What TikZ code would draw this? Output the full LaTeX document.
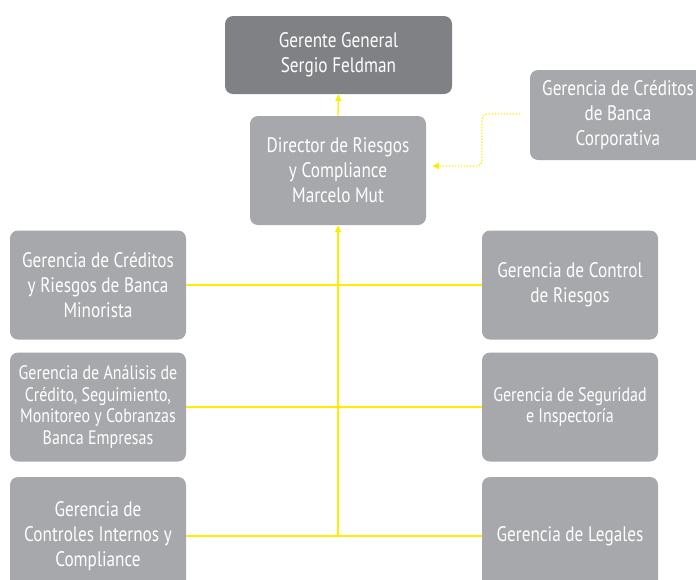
\documentclass[tikz,border=0pt]{standalone}
\usepackage{fontspec}
\setmainfont{PT Sans}[FakeStretch=0.82]
\usetikzlibrary{arrows.meta}
\definecolor{darkbox}{RGB}{128,129,132}
\definecolor{lightbox}{RGB}{167,168,171}
\definecolor{ylw}{RGB}{255,237,0}
\tikzset{
  box/.style={fill=lightbox, rounded corners=8pt, text=white, align=center,
    minimum width=176pt, minimum height=109pt, inner sep=0pt,
    font=\fontsize{21}{25}\selectfont},
  smallbox/.style={box, font=\fontsize{19.5}{21.7}\selectfont},
  link/.style={draw=ylw, line width=1.3pt},
  tip/.style={-{Triangle[length=7pt,width=6pt]}},
  dotlink/.style={draw=ylw, line width=1.4pt, dash pattern=on 1.3pt off 1.7pt, rounded corners=5pt}
}
\begin{document}
\begin{tikzpicture}[x=1pt,y=-1pt]
\useasboundingbox (0,0) rectangle (696,579);
\node[box, fill=darkbox, minimum width=227pt, minimum height=78pt] (gg) at (338.5,55) {Gerente General\\Sergio Feldman};
\node[box] (dir) at (338,170.5) {Director de Riesgos\\y Compliance\\Marcelo Mut};
\node[box, minimum height=90pt] (corp) at (618,115) {Gerencia de Créditos\\de Banca\\Corporativa};
\node[box] (l1) at (98,285) {Gerencia de Créditos\\y Riesgos de Banca\\Minorista};
\node[smallbox] (l2) at (98,407) {Gerencia de Análisis de\\Crédito, Seguimiento,\\Monitoreo y Cobranzas\\Banca Empresas};
\node[box, minimum height=118pt] (l3) at (98,536) {Gerencia de\\Controles Internos y\\Compliance};
\node[box] (r1) at (570,285) {Gerencia de Control\\de Riesgos};
\node[smallbox] (r2) at (570,407) {Gerencia de Seguridad\\e Inspectoría};
\node[box, minimum height=118pt] (r3) at (570,536) {Gerencia de Legales};
\coordinate (bot) at (338,536.6);
\coordinate (c1) at (482,114);
\coordinate (c2) at (482,166);
\draw[link] (l1.east) -- (r1.west);
\draw[link] (l2.east) -- (r2.west);
\draw[link] (l3.east) -- (r3.west);
\draw[link, tip] (bot) -- (dir.south);
\draw[link, tip] (dir.north) -- (gg.south);
\draw[dotlink, tip] ([xshift=-10pt]corp.west |- c1) -- (c1) -- (c2) -- ([xshift=6pt]dir.east |- c2);
\end{tikzpicture}
\end{document}
